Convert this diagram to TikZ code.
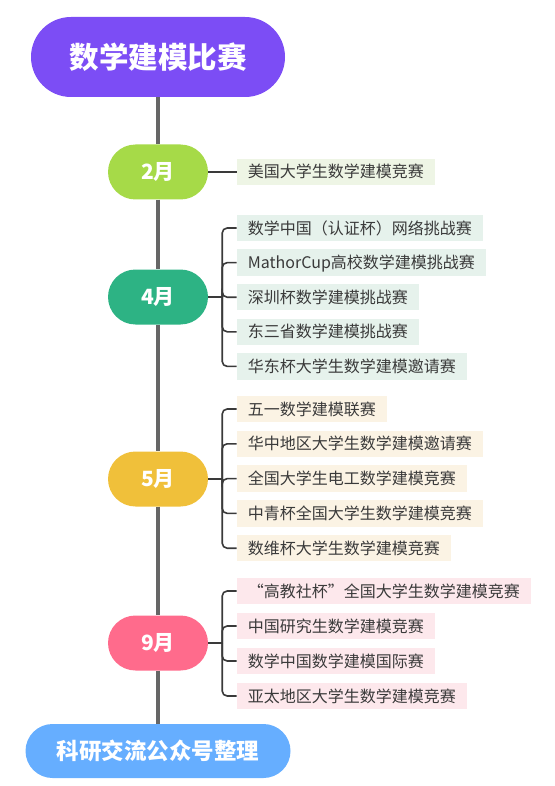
\documentclass[tikz,border=0pt]{standalone}
\usepackage{fontspec}
\setmainfont{Noto Sans CJK SC}
\usepackage{xcolor}
\usepackage{tikz}
\usetikzlibrary{positioning, calc}

\definecolor{titlepurple}{HTML}{7C4DF5}
\definecolor{febgreen}{HTML}{A6DA48}
\definecolor{aprteal}{HTML}{2DB384}
\definecolor{mayyellow}{HTML}{F0C03A}
\definecolor{seppink}{HTML}{FF6B8C}
\definecolor{footblue}{HTML}{66AEFF}
\definecolor{febleaf}{HTML}{EEF5E5}
\definecolor{aprleaf}{HTML}{E6F2EC}
\definecolor{mayleaf}{HTML}{FBF3E4}
\definecolor{sepleaf}{HTML}{FDE8EC}
\definecolor{spinegray}{HTML}{666666}
\definecolor{leaftext}{HTML}{3A3A3A}

\begin{document}
\begin{tikzpicture}[x=1pt,y=-1pt,
    pill/.style={fill=#1,text=white,font=\bfseries\fontsize{21}{21}\selectfont,
      minimum width=100,minimum height=55,rounded corners=27.5,inner sep=0},
    leaf/.style={fill=#1,text=leaftext,font=\fontsize{16}{16}\selectfont,anchor=west,
      inner xsep=11,inner ysep=0,text height=14,text depth=2,minimum height=26.5},
    spine/.style={draw=spinegray,line width=3.3},
    link/.style={draw=leaftext,line width=1.6,rounded corners=5}]
        \useasboundingbox (0,0) rectangle (554,786);

        % timeline heads
        \node[pill=titlepurple,minimum width=254,minimum height=80,rounded corners=40,
          font=\bfseries\fontsize{29.5}{29.5}\selectfont] (title) at (158,57) {数学建模比赛};
        \node[pill=footblue,minimum width=265,minimum height=54,rounded corners=27,
          font=\bfseries\fontsize{22.5}{22.5}\selectfont] (foot) at (158,751) {科研交流公众号整理};

        % months
        \node[pill=febgreen] (m2) at (158,172) {2月};
        \node[pill=aprteal] (m4) at (158,297) {4月};
        \node[pill=mayyellow] (m5) at (158,479) {5月};
        \node[pill=seppink] (m9) at (158,643) {9月};

        \draw[spine] (title) -- (m2) -- (m4) -- (m5) -- (m9) -- (foot);

        % february
        \node[leaf=febleaf] (l21) at (236.7,172) {美国大学生数学建模竞赛};
        \draw[link] (m2) -- (l21);

        % april
        \foreach \t [count=\i] in {数学中国（认证杯）网络挑战赛, MathorCup高校数学建模挑战赛,
            深圳杯数学建模挑战赛, 东三省数学建模挑战赛, 华东杯大学生数学建模邀请赛}
          \node[leaf=aprleaf] (l4\i) at (236.7,228+34.6*\i-34.6) {\t};
        \coordinate (b4) at ([xshift=14]m4.east);
        \draw[link] (m4) -- (b4);
        \foreach \i in {1,...,5}
          \draw[link] (b4) |- (l4\i.west);

        % may
        \foreach \t [count=\i] in {五一数学建模联赛, 华中地区大学生数学建模邀请赛,
            全国大学生电工数学建模竞赛, 中青杯全国大学生数学建模竞赛, 数维杯大学生数学建模竞赛}
          \node[leaf=mayleaf] (l5\i) at (236.7,409+34.8*\i-34.8) {\t};
        \coordinate (b5) at ([xshift=14]m5.east);
        \draw[link] (m5) -- (b5);
        \foreach \i in {1,...,5}
          \draw[link] (b5) |- (l5\i.west);

        % september
        \foreach \t [count=\i] in {“高教社杯”全国大学生数学建模竞赛, 中国研究生数学建模竞赛,
            数学中国数学建模国际赛, 亚太地区大学生数学建模竞赛}
          \node[leaf=sepleaf] (l9\i) at (236.7,591+35*\i-35) {\t};
        \coordinate (b9) at ([xshift=14]m9.east);
        \draw[link] (m9) -- (b9);
        \foreach \i in {1,...,4}
          \draw[link] (b9) |- (l9\i.west);
      \end{tikzpicture}
\end{document}
